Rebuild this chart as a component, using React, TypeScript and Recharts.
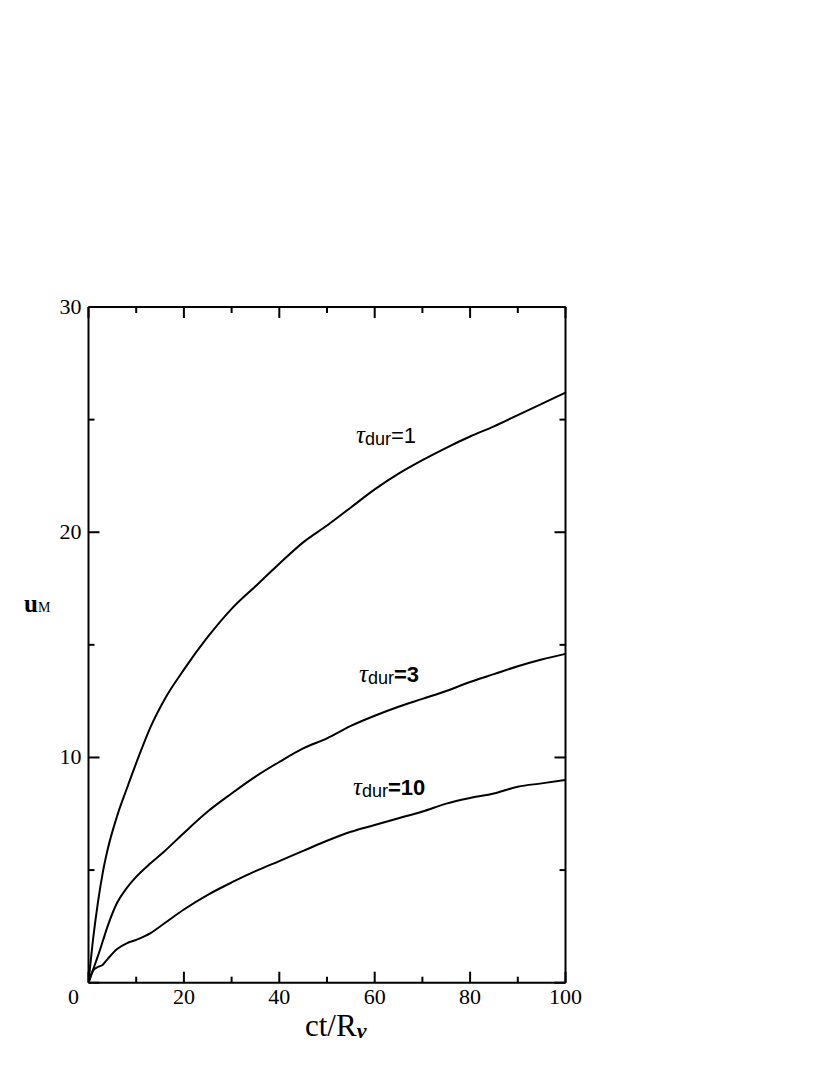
import React from "react"
import { LineChart, Line, XAxis, YAxis } from "recharts"

// ct/R_nu sample points
const ctValues = [0, 1, 2, 3, 4, 6, 8, 10, 13, 16, 20, 25, 30, 35, 40, 45, 50, 55, 60, 65, 70, 75, 80, 85, 90, 95, 100]

// u_M for each tau_dur
const tau1 = [0, 2.0, 3.6, 4.9, 5.9, 7.4, 8.6, 9.75, 11.35, 12.6, 13.9, 15.35, 16.6, 17.6, 18.6, 19.55, 20.3, 21.1, 21.9, 22.6, 23.2, 23.75, 24.25, 24.7, 25.2, 25.7, 26.2]
const tau3 = [0, 0.6, 1.2, 1.85, 2.5, 3.55, 4.2, 4.7, 5.3, 5.85, 6.65, 7.6, 8.4, 9.15, 9.8, 10.4, 10.85, 11.4, 11.85, 12.25, 12.6, 12.95, 13.35, 13.7, 14.05, 14.35, 14.6]
const tau10 = [0, 0.55, 0.7, 0.8, 1.05, 1.5, 1.75, 1.9, 2.2, 2.65, 3.25, 3.9, 4.45, 4.95, 5.4, 5.85, 6.3, 6.7, 7.0, 7.3, 7.6, 7.95, 8.2, 8.4, 8.7, 8.85, 9.0]

const xTicks = [0, 10, 20, 30, 40, 50, 60, 70, 80, 90, 100]
const xLabels = [0, 20, 40, 60, 80, 100]
const yTicks = [0, 5, 10, 15, 20, 25, 30]
const yLabels = [10, 20, 30]
const yMajors = [0, 10, 20, 30]

const data = ctValues.map((x, i) => ({ x, t1: tau1[i], t3: tau3[i], t10: tau10[i] }))

const serif = "'Liberation Serif', 'Times New Roman', serif"
const sans = "'Liberation Sans', Arial, sans-serif"

const tickLen = (v: number, majors: number[]) => (majors.includes(v) ? 11 : 6)

const BottomTick = (props: any) => {
  const { x, y, payload } = props
  const v = payload.value
  // the shared corner "0" sits a little left of the axis
  const tx = v === 0 ? x - 15 : x
  return (
    <g>
      <line x1={x} y1={y} x2={x} y2={y - tickLen(v, xLabels)} stroke="#000" strokeWidth={2} />
      {xLabels.includes(v) && (
        <text x={tx} y={y + 21} textAnchor="middle" fontFamily={serif} fontSize={22} fill="#000">
          {v}
        </text>
      )}
    </g>
  )
}

const TopTick = (props: any) => {
  const { x, y, payload } = props
  return <line x1={x} y1={y} x2={x} y2={y + tickLen(payload.value, xLabels)} stroke="#000" strokeWidth={2} />
}

const LeftTick = (props: any) => {
  const { x, y, payload } = props
  const v = payload.value
  return (
    <g>
      <line x1={x} y1={y} x2={x + tickLen(v, yMajors)} y2={y} stroke="#000" strokeWidth={2} />
      {yLabels.includes(v) && (
        <text x={x - 7} y={y + 7} textAnchor="end" fontFamily={serif} fontSize={22} fill="#000">
          {v}
        </text>
      )}
    </g>
  )
}

const RightTick = (props: any) => {
  const { x, y, payload } = props
  return <line x1={x} y1={y} x2={x - tickLen(payload.value, yMajors)} y2={y} stroke="#000" strokeWidth={2} />
}

function CurveLabel({ x, y, value, bold }: { x: number; y: number; value: string; bold?: boolean }) {
  return (
    <text x={x} y={y} fill="#000">
      <tspan fontFamily={serif} fontStyle="italic" fontSize={25}>τ</tspan>
      <tspan fontFamily={sans} fontSize={18} dy={2}>dur</tspan>
      <tspan fontFamily={sans} fontSize={22} dy={-2} fontWeight={bold ? "bold" : "normal"}>={value}</tspan>
    </text>
  )
}

export default function App() {
  return (
    <div style={{ position: "absolute", left: 0, top: 0, width: 830, height: 1075, background: "#fff" }}>
      <LineChart
        width={830}
        height={1075}
        data={data}
        margin={{ top: 297, right: 254.5, bottom: 52.3, left: 28.5 }}
      >
        <XAxis
          xAxisId="b"
          type="number"
          dataKey="x"
          domain={[0, 100]}
          ticks={xTicks}
          interval={0}
          height={40}
          tickSize={0}
          tickMargin={0}
          tickLine={false}
          axisLine={{ stroke: "#000", strokeWidth: 2 }}
          tick={<BottomTick />}
          allowDataOverflow
        />
        <XAxis
          xAxisId="t"
          orientation="top"
          type="number"
          dataKey="x"
          domain={[0, 100]}
          ticks={xTicks}
          interval={0}
          height={10}
          tickSize={0}
          tickMargin={0}
          tickLine={false}
          axisLine={{ stroke: "#000", strokeWidth: 2 }}
          tick={<TopTick />}
          allowDataOverflow
        />
        <YAxis
          yAxisId="l"
          type="number"
          domain={[0, 30]}
          ticks={yTicks}
          interval={0}
          width={60}
          tickSize={0}
          tickMargin={0}
          tickLine={false}
          axisLine={{ stroke: "#000", strokeWidth: 2 }}
          tick={<LeftTick />}
          allowDataOverflow
        />
        <YAxis
          yAxisId="r"
          orientation="right"
          type="number"
          domain={[0, 30]}
          ticks={yTicks}
          interval={0}
          width={10}
          tickSize={0}
          tickMargin={0}
          tickLine={false}
          axisLine={{ stroke: "#000", strokeWidth: 2 }}
          tick={<RightTick />}
          allowDataOverflow
        />
        <Line xAxisId="b" yAxisId="l" dataKey="t1" type="monotone" stroke="#000" strokeWidth={2} dot={false} isAnimationActive={false} />
        <Line xAxisId="b" yAxisId="l" dataKey="t3" type="monotone" stroke="#000" strokeWidth={2} dot={false} isAnimationActive={false} />
        <Line xAxisId="b" yAxisId="l" dataKey="t10" type="monotone" stroke="#000" strokeWidth={2} dot={false} isAnimationActive={false} />
      </LineChart>
      <svg width={830} height={1075} style={{ position: "absolute", left: 0, top: 0, pointerEvents: "none" }}>
        <CurveLabel x={356} y={443} value="1" />
        <CurveLabel x={359} y={682} value="3" bold />
        <CurveLabel x={353} y={795} value="10" bold />
        <text x={24} y={612} fill="#000">
          <tspan fontFamily={serif} fontWeight="bold" fontSize={25}>u</tspan>
          <tspan fontFamily={serif} fontSize={14}>M</tspan>
        </text>
        <text x={305} y={1036} fill="#000" fontFamily={serif}>
          <tspan fontSize={31}>ct/R</tspan>
          <tspan fontSize={22} fontStyle="italic" fontWeight="bold" dy={2}>ν</tspan>
        </text>
      </svg>
    </div>
  )
}
